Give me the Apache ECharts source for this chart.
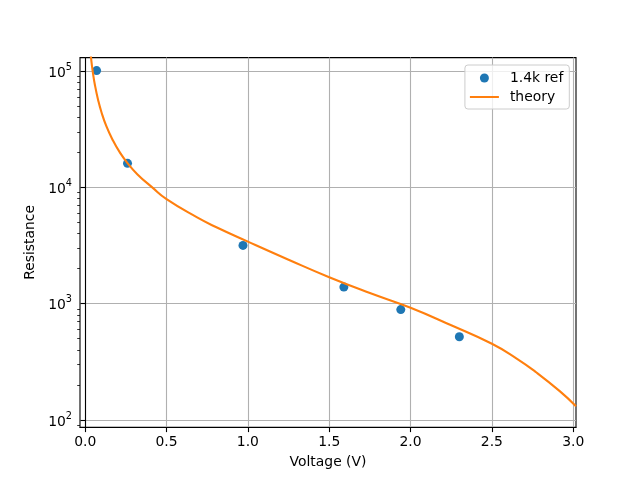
<!DOCTYPE html>
<html>
<head>
<meta charset="utf-8">
<script src="https://cdn.jsdelivr.net/npm/echarts@6/dist/echarts.min.js"></script>
<style>html,body{margin:0;padding:0;background:#fff}#c{width:640px;height:480px}</style>
</head>
<body>
<div id="c"></div>
<script>
// Measured data (1.4k reference)
const refVoltage = [0.07, 0.26, 0.97, 1.59, 1.94, 2.30];
const refResistance = [101000, 16100, 3170, 1390, 890, 520];

// Theory curve
const theoryVoltage = [0.030, 0.036, 0.046, 0.06, 0.08, 0.10, 0.13, 0.17, 0.21, 0.26, 0.32, 0.412, 0.5, 0.688, 0.8, 1.0, 1.25, 1.5, 1.75, 2.0, 2.25, 2.5, 2.65, 2.774, 2.917, 3.017];
const theoryResistance = [156700, 129400, 100000, 75600, 56000, 44300, 33600, 25400, 20300, 16200, 13000, 10000, 7930, 5520, 4590, 3420, 2390, 1690, 1236, 923, 652, 452, 339, 256, 177, 131.5];

// Tick values
const xTicks = [0, 0.5, 1.0, 1.5, 2.0, 2.5, 3.0];
const yTicks = [100, 1000, 10000, 100000];
const yMinorTicks = [90, 200, 300, 400, 500, 600, 700, 800, 900, 2000, 3000, 4000, 5000, 6000, 7000, 8000, 9000, 20000, 30000, 40000, 50000, 60000, 70000, 80000, 90000];

const FONT = 'DejaVu Sans';
const FS = 13.9;
const xMin = -0.032, xMax = 3.017;
const yMin = 86.7, yMax = 130700;

const chart = echarts.init(document.getElementById('c'), null, {renderer: 'canvas'});
chart.setOption({
  animation: false,
  backgroundColor: '#ffffff',
  textStyle: {fontFamily: FONT},
  grid: {left: 80, right: 64, top: 57.6, bottom: 52.8, show: true, borderColor: '#000', borderWidth: 1.1, backgroundColor: 'transparent', outerBoundsMode: 'none'},
  legend: {
    right: 70.7, top: 65, orient: 'vertical', align: 'left',
    padding: [6, 6, 5, 4], itemGap: 5, itemWidth: 29, itemHeight: 9,
    backgroundColor: 'rgba(255,255,255,0.8)', borderColor: '#cccccc', borderWidth: 1, borderRadius: 3,
    textStyle: {fontFamily: FONT, fontSize: FS, color: '#000', padding: [0, 0, 0, 6]},
    data: [
      {name: '1.4k ref', icon: 'circle'},
      {name: 'theory', itemStyle: {color: 'rgba(0,0,0,0)', borderWidth: 0, opacity: 0}}
    ]
  },
  xAxis: {
    type: 'value', min: xMin, max: xMax,
    name: 'Voltage (V)', nameLocation: 'middle', nameGap: 28,
    nameTextStyle: {fontFamily: FONT, fontSize: FS, color: '#000'},
    axisLine: {show: true, lineStyle: {color: '#000', width: 1.1}},
    axisTick: {show: true, inside: false, length: 4.9, lineStyle: {color: '#000', width: 1.1}, customValues: xTicks},
    axisLabel: {customValues: xTicks, margin: 8, color: '#000', fontFamily: FONT, fontSize: FS, formatter: v => v.toFixed(1)},
    splitLine: {show: true, lineStyle: {color: '#b0b0b0', width: 1.1}}
  },
  yAxis: [{
    type: 'log', logBase: 10, min: yMin, max: yMax,
    name: 'Resistance', nameLocation: 'middle', nameGap: 40, nameRotate: 90,
    nameTextStyle: {fontFamily: FONT, fontSize: FS, color: '#000'},
    axisLine: {show: true, lineStyle: {color: '#000', width: 1.1}},
    axisTick: {show: true, inside: false, length: 4.9, lineStyle: {color: '#000', width: 1.1}, customValues: yTicks},
    axisLabel: {
      customValues: yTicks, margin: 8, color: '#000', fontFamily: FONT, fontSize: FS,
      formatter: v => '{b|10}{s|' + Math.round(Math.log10(v)) + '}',
      rich: {
        b: {fontFamily: FONT, fontSize: FS, color: '#000', lineHeight: 18, verticalAlign: 'bottom'},
        s: {fontFamily: FONT, fontSize: 9.7, color: '#000', lineHeight: 18, verticalAlign: 'top'}
      }
    },
    splitLine: {show: true, lineStyle: {color: '#b0b0b0', width: 1.1}}
  }, {
    type: 'log', logBase: 10, min: yMin, max: yMax, position: 'left',
    axisLine: {show: false}, axisLabel: {show: false}, splitLine: {show: false},
    axisTick: {show: true, inside: false, length: 2.8, lineStyle: {color: '#000', width: 0.8}, customValues: yMinorTicks}
  }],
  series: [{
    name: '1.4k ref', type: 'scatter', yAxisIndex: 0,
    data: refVoltage.map((v, i) => [v, refResistance[i]]),
    symbol: 'circle', symbolSize: 9,
    itemStyle: {color: '#1f77b4', opacity: 1},
    z: 3
  }, {
    name: 'theory', type: 'line', yAxisIndex: 0,
    data: theoryVoltage.map((v, i) => [v, theoryResistance[i]]),
    symbol: 'none', smooth: 0.5, clip: true,
    lineStyle: {color: '#ff7f0e', width: 2.1},
    itemStyle: {color: '#ff7f0e'},
    z: 4
  }]
});
</script>
</body>
</html>
